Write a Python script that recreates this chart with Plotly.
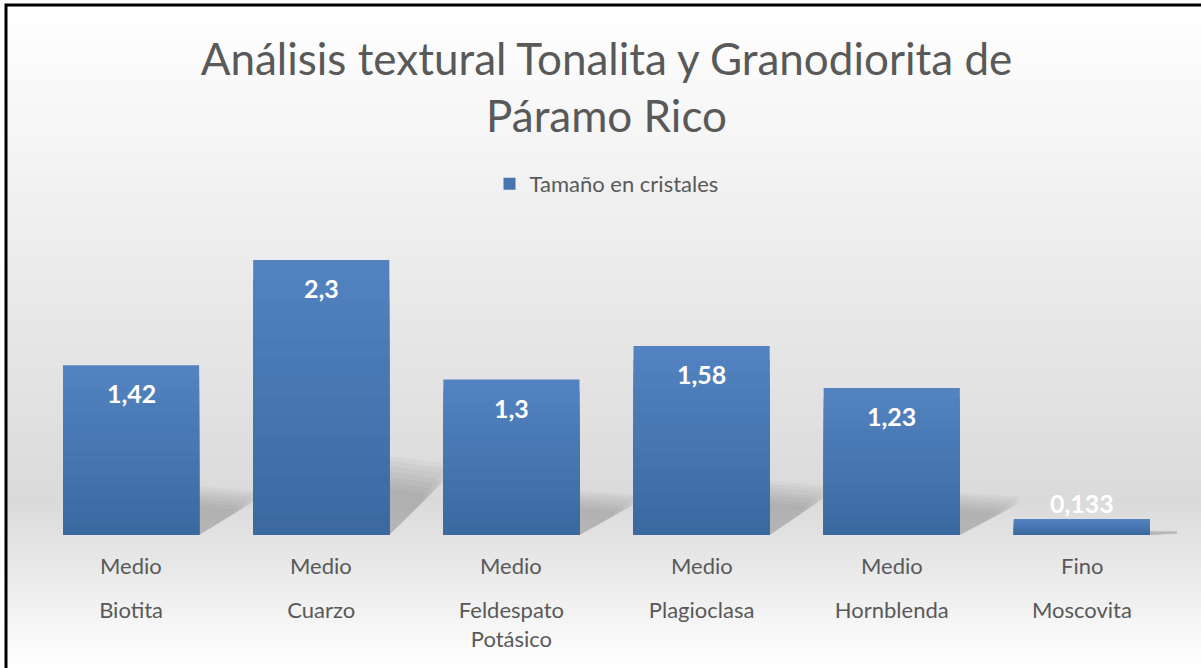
import plotly.graph_objects as go

# Minerals, their crystal-size class and the measured size
minerales = ["Biotita", "Cuarzo", "Feldespato<br>Potásico", "Plagioclasa", "Hornblenda", "Moscovita"]
clase_tamano = ["Medio", "Medio", "Medio", "Medio", "Medio", "Fino"]
tamano_cristales = [1.42, 2.3, 1.3, 1.58, 1.23, 0.133]

serie = "Tamaño en cristales"
titulo = "Análisis textural Tonalita y Granodiorita de<br>Páramo Rico"

W, H = 1201, 668
M_L, M_R, M_T, M_B = 36, 24, 236, 133
PLOT_H = H - M_T - M_B
Y_MAX = 2.5
TXT = "#595959"
FONT = "Lato"


def py_to_paper(py):
    return (H - M_B - py) / PLOT_H


def px_to_paper(px):
    return (px - M_L) / (W - M_L - M_R)


def lerp_hex(c0, c1, t):
    a = [int(c0[i:i + 2], 16) for i in (1, 3, 5)]
    b = [int(c1[i:i + 2], 16) for i in (1, 3, 5)]
    return "#" + "".join(f"{round(a[j] + (b[j] - a[j]) * t):02x}" for j in range(3))


fig = go.Figure()

# Bars with a vertical gradient: stacked overlay layers, darkest at the base
N_LAYERS = 14
BAR_DARK, BAR_LIGHT = "#3a679e", "#5283c0"
x_idx = list(range(len(minerales)))
for k in range(N_LAYERS, 0, -1):
    f = k / N_LAYERS
    fig.add_trace(go.Bar(
        x=x_idx,
        y=[v * f for v in tamano_cristales],
        marker=dict(color=lerp_hex(BAR_DARK, BAR_LIGHT, f), line=dict(width=0)),
        name=serie,
        showlegend=(k == N_LAYERS // 2),
        hoverinfo="skip",
    ))

shapes = []

# Background: white -> gray -> white vertical gradient inside the frame
def bg_level(py):
    if py <= 500:
        return 255 - 37 * (py - 7) / 493
    return 218 + 37 * (py - 500) / 168

BAND = 4
for y0 in range(7, H + 4, BAND):
    g = round(bg_level(y0 + BAND / 2))
    shapes.append(dict(
        type="rect", xref="paper", yref="paper", layer="below",
        x0=px_to_paper(7), x1=px_to_paper(W + 10),
        y0=py_to_paper(y0 + BAND + 0.5), y1=py_to_paper(y0),
        fillcolor=f"rgb({g},{g},{g})", line=dict(width=0),
    ))

# Soft perspective shadows cast behind each bar (several faint layers = blur)
half_w = (1 - 0.284) / 2
for i, v in enumerate(tamano_cristales):
    r = i + half_w
    h = 0.25 * v
    for grow in (1.15, 1.08, 1.0, 0.92, 0.84, 0.76, 0.68):
        d = 0.27 * grow
        hh = h * grow
        pts = [(r, 0), (r, hh), (r + d, 0.9 * hh), (r + d, 0.74 * hh)]
        path = "M " + " L ".join(f"{x:.4f},{y:.4f}" for x, y in pts) + " Z"
        shapes.append(dict(type="path", xref="x", yref="y", layer="below", path=path,
                           fillcolor="rgba(60,60,60,0.042)", line=dict(width=0)))

# Chart frame
shapes.append(dict(type="rect", xref="paper", yref="paper", layer="above",
                   x0=px_to_paper(6), x1=px_to_paper(W + 20),
                   y0=py_to_paper(H + 20), y1=py_to_paper(5),
                   line=dict(color="black", width=3), fillcolor="rgba(0,0,0,0)"))

annotations = []
# Value labels near the top of each bar
min_label_y = 0.5
for i, v in enumerate(tamano_cristales):
    annotations.append(dict(
        x=i, y=max(v, min_label_y), xref="x", yref="y", yanchor="top", yshift=-11,
        text=f"<b>{str(v).replace('.', ',')}</b>", showarrow=False,
        font=dict(family=FONT, size=25, color="white"),
    ))
# Size-class row above the mineral names
for i, c in enumerate(clase_tamano):
    annotations.append(dict(
        x=i, y=py_to_paper(565), xref="x", yref="paper", yanchor="middle",
        text=c, showarrow=False, font=dict(family=FONT, size=22, color=TXT),
    ))

fig.update_layout(
    width=W, height=H, autosize=False,
    margin=dict(l=M_L, r=M_R, t=M_T, b=M_B),
    paper_bgcolor="white", plot_bgcolor="rgba(0,0,0,0)",
    barmode="overlay", bargap=0.284,
    title=dict(text=titulo, x=0.5, xanchor="center", xref="paper",
               y=1 - 75 / H, yanchor="middle", yref="container",
               font=dict(family=FONT, size=44, color=TXT)),
    legend=dict(orientation="h", x=0.5, xanchor="center", y=py_to_paper(184), yanchor="middle",
                font=dict(family=FONT, size=22, color=TXT), bgcolor="rgba(0,0,0,0)"),
    xaxis=dict(tickmode="array", tickvals=x_idx, ticktext=minerales, range=[-0.5, len(minerales) - 0.5],
               showgrid=False, zeroline=False, showline=False, ticks="",
               tickfont=dict(family=FONT, size=22, color=TXT), ticklabelstandoff=60),
    yaxis=dict(range=[0, Y_MAX], visible=False),
    shapes=shapes, annotations=annotations,
    showlegend=True,
)

fig.write_html("out.html")
